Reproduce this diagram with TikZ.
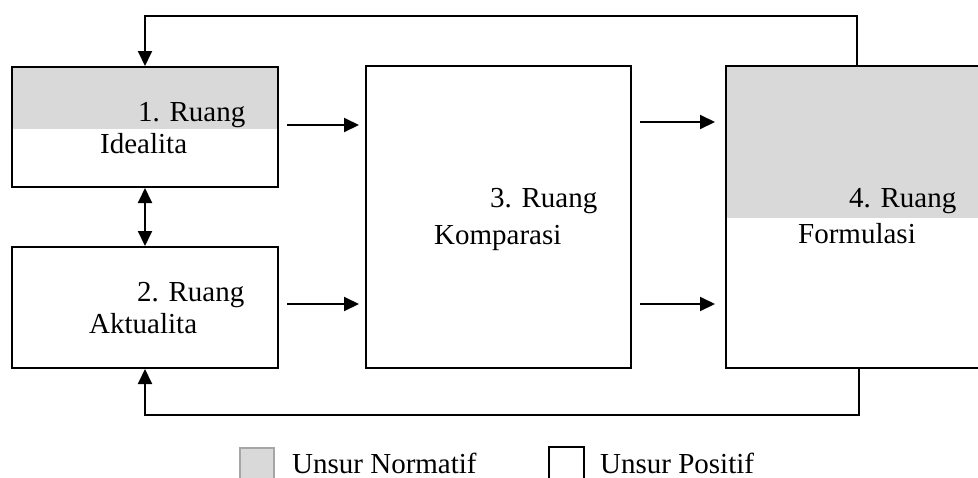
\documentclass[tikz,border=0pt]{standalone}
\usepackage{fontspec}
\setmainfont{Liberation Serif}
\usetikzlibrary{arrows.meta,calc}
\definecolor{normgray}{HTML}{D9D9D9}
\definecolor{legborder}{HTML}{A6A6A6}
\tikzset{
  boxnode/.style={draw=black, line width=2pt, rectangle, inner sep=0pt},
  lbl/.style={anchor=base west, inner sep=0pt, font=\fontsize{29}{33}\selectfont},
  arr/.style={line width=2pt, -{Triangle[length=15pt,width=14pt]}},
  dblarr/.style={line width=2pt, {Triangle[length=15pt,width=14pt]}-{Triangle[length=15pt,width=14pt]}},
}
\begin{document}
\begin{tikzpicture}[x=1pt,y=-1pt]
\useasboundingbox (0,0) rectangle (978,477);
\clip (0,0) rectangle (978,477);
% gray fills
\fill[normgray] (12,67) rectangle (278,129);
\fill[normgray] (726,66) rectangle (1000,218);
% boxes
\node[boxnode, minimum width=266pt, minimum height=120pt] (b1) at (145,127) {};
\node[boxnode, minimum width=266pt, minimum height=121pt] (b2) at (145,307.5) {};
\node[boxnode, minimum width=265pt, minimum height=302pt] (b3) at (498.5,217) {};
\node[boxnode, minimum width=274pt, minimum height=302pt] (b4) at (863,217) {};
% texts
\node[lbl] (t1a) at (138,121) {1. Ruang};
\node[lbl] (t1b) at (100,153) {Idealita};
\node[lbl] (t2a) at (137,301) {2. Ruang};
\node[lbl] (t2b) at (89,333) {Aktualita};
\node[lbl] (t3a) at (490,207) {3. Ruang};
\node[lbl] (t3b) at (434,244) {Komparasi};
\node[lbl] (t4a) at (849,207) {4. Ruang};
\node[lbl] (t4b) at (798,243) {Formulasi};
% helper coordinates
\coordinate (ya) at (0,125);
\coordinate (yb) at (0,304);
\coordinate (yc) at (0,122);
\coordinate (yd) at (0,304);
% connectors
\draw[arr, shorten <=8pt, shorten >=6pt] (b1.east |- ya) -- (b3.west |- ya);
\draw[arr, shorten <=8pt, shorten >=6pt] (b2.east |- yb) -- (b3.west |- yb);
\draw[arr, shorten <=8pt, shorten >=10pt] (b3.east |- yc) -- (b4.west |- yc);
\draw[arr, shorten <=8pt, shorten >=10pt] (b3.east |- yd) -- (b4.west |- yd);
\draw[dblarr] (b1.south) -- (b2.north);
\draw[arr] ($(b4.north west)+(132,0)$) -- ++(0,-49) -| (b1.north);
\draw[arr] ($(b4.south west)+(134,0)$) -- ++(0,46) -| (b2.south);
% legend
\node[draw=legborder, fill=normgray, line width=1.5pt, minimum width=34pt, minimum height=34pt, inner sep=0pt] (lg1) at (257,465) {};
\node[lbl] (lt1) at (292,473) {Unsur Normatif};
\node[draw=black, line width=2pt, minimum width=35pt, minimum height=34pt, inner sep=0pt] (lg2) at (566.5,464) {};
\node[lbl] (lt2) at (600,473) {Unsur Positif};
\end{tikzpicture}
\end{document}
